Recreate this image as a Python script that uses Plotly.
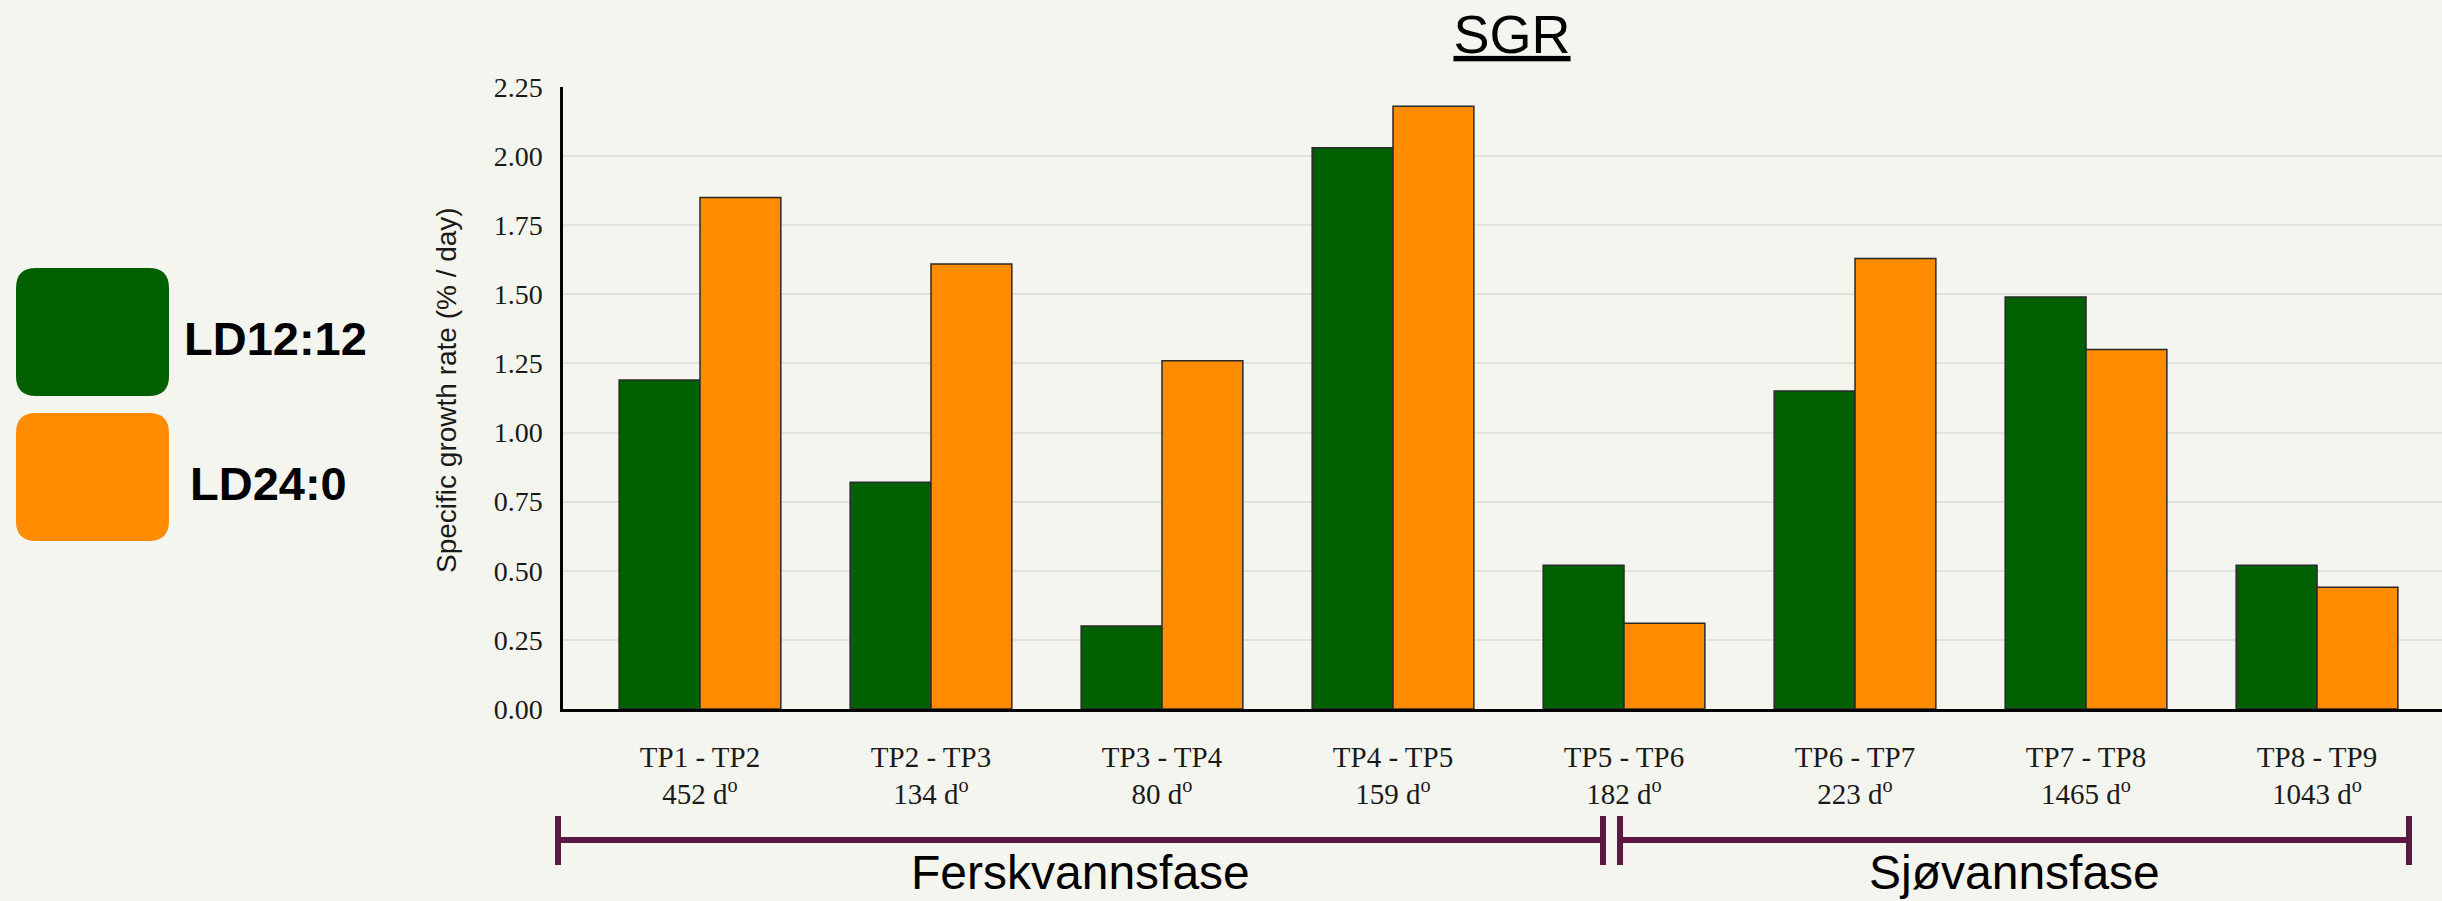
import plotly.graph_objects as go

# data
periods = ["TP1 - TP2", "TP2 - TP3", "TP3 - TP4", "TP4 - TP5",
           "TP5 - TP6", "TP6 - TP7", "TP7 - TP8", "TP8 - TP9"]
degree_days = [452, 134, 80, 159, 182, 223, 1465, 1043]
ld12 = [1.19, 0.82, 0.30, 2.03, 0.52, 1.15, 1.49, 0.52]
ld24 = [1.85, 1.61, 1.26, 2.18, 0.31, 1.63, 1.30, 0.44]
series_names = ["LD12:12", "LD24:0"]
phase_names = ["Ferskvannsfase", "Sjøvannsfase"]
y_ticks = [0, 0.25, 0.5, 0.75, 1.0, 1.25, 1.5, 1.75, 2.0, 2.25]

GREEN = "#006000"
ORANGE = "#FF8C00"
MAROON = "#5B1840"
BG = "#F5F5EF"
SERIF = "Liberation Serif, Times New Roman, serif"
SANS = "Liberation Sans, Arial, sans-serif"

W, H = 2442, 901
L, R, T, B = 563, 2442, 87, 709


def fx(px):
    return (px - L) / (R - L)


def fy(py):
    return (B - py) / (B - T)


def rounded_box(x0, y0, x1, y1, r):
    pts = [("M", x0 + r, y0), ("L", x1 - r, y0), ("Q", x1, y0, x1, y0 + r),
           ("L", x1, y1 - r), ("Q", x1, y1, x1 - r, y1), ("L", x0 + r, y1),
           ("Q", x0, y1, x0, y1 - r), ("L", x0, y0 + r), ("Q", x0, y0, x0 + r, y0)]
    out = []
    for p in pts:
        cmd, coords = p[0], p[1:]
        xy = []
        for i in range(0, len(coords), 2):
            xy.append(f"{fx(coords[i]):.5f},{fy(coords[i + 1]):.5f}")
        out.append(cmd + " ".join(xy))
    return " ".join(out) + " Z"


fig = go.Figure()
for name, vals, color in [(series_names[0], ld12, GREEN), (series_names[1], ld24, ORANGE)]:
    fig.add_trace(go.Bar(
        x=periods, y=vals, name=name, marker_color=color,
        marker_line=dict(color="#2a2a2a", width=1.5), showlegend=False,
    ))

ticktext = [f"{p}<br>{d} d<sup>o</sup>" for p, d in zip(periods, degree_days)]

fig.update_layout(
    width=W, height=H, barmode="group", bargap=0.3, bargroupgap=0,
    margin=dict(l=L, r=W - R, t=T, b=H - B),
    paper_bgcolor=BG, plot_bgcolor=BG,
    font=dict(family=SANS, color="black"),
    title=dict(text="<u>SGR</u>", x=1512 / W, xref="container", xanchor="center",
               y=1 - 34 / H, yref="container", yanchor="middle",
               font=dict(size=54, family=SANS, color="black")),
)
fig.update_xaxes(
    tickvals=periods, ticktext=ticktext, range=[-0.593, 7.541],
    tickfont=dict(family=SERIF, size=29, color="#1a1a1a"),
    showline=True, linecolor="black", linewidth=2.5, ticks="",
    ticklabelstandoff=20, showgrid=False,
)
fig.update_yaxes(
    range=[0, 2.25], tickvals=y_ticks, tickformat=".2f",
    tickfont=dict(family=SERIF, size=28, color="#1a1a1a"),
    showline=True, linecolor="black", linewidth=2.5, ticks="",
    ticklabelstandoff=12, gridcolor="#E2E2DC", gridwidth=2, zeroline=False,
)

# y axis title
fig.add_annotation(text="Specific growth rate (% / day)", textangle=-90,
                   x=fx(446), y=fy(390), xref="paper", yref="paper",
                   xanchor="center", yanchor="middle", showarrow=False,
                   font=dict(family=SANS, size=28, color="#1a1a1a"))

# legend boxes
legend_boxes = [(268, 396, GREEN), (413, 541, ORANGE)]
legend_text = [(182, 338), (188, 483)]
for (y0, y1, color), (tx, ty), name in zip(legend_boxes, legend_text, series_names):
    fig.add_shape(type="path", path=rounded_box(16, y0, 169, y1, 20),
                  xref="paper", yref="paper", fillcolor=color, line_width=0)
    fig.add_annotation(text=f"<b>{name}</b>", x=fx(tx), y=fy(ty), xref="paper", yref="paper",
                       xanchor="left", yanchor="middle", showarrow=False,
                       font=dict(family=SANS, size=47, color="black"))

# phase brackets
line_y = 840
tick_top, tick_bot = 816, 865
spans = [(558, 1603), (1620, 2409)]
for (x0, x1), name in zip(spans, phase_names):
    fig.add_shape(type="line", x0=fx(x0), x1=fx(x1), y0=fy(line_y), y1=fy(line_y),
                  xref="paper", yref="paper", line=dict(color=MAROON, width=6))
    for xv in (x0, x1):
        fig.add_shape(type="line", x0=fx(xv), x1=fx(xv), y0=fy(tick_top), y1=fy(tick_bot),
                      xref="paper", yref="paper", line=dict(color=MAROON, width=6))
    fig.add_annotation(text=name, x=fx((x0 + x1) / 2), y=fy(872), xref="paper", yref="paper",
                       xanchor="center", yanchor="middle", showarrow=False,
                       font=dict(family=SANS, size=48, color="black"))

fig.write_html("out.html", config={"displayModeBar": False},
               post_script="document.body.style.margin='0';")
